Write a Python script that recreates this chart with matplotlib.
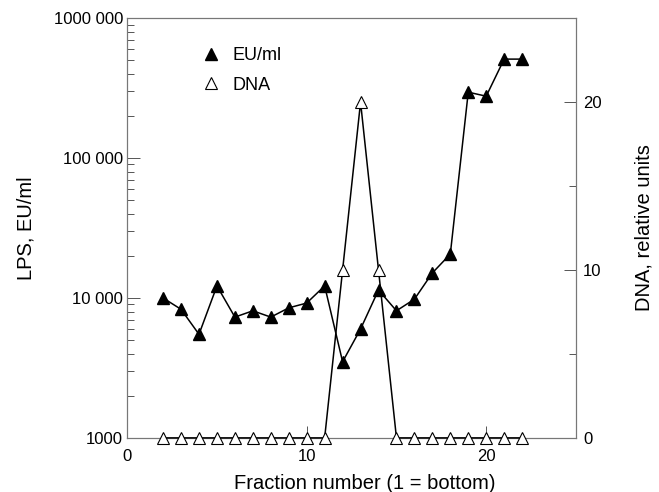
import matplotlib
matplotlib.use('Agg')
import matplotlib.pyplot as plt
from matplotlib.ticker import FixedLocator, LogLocator, NullFormatter

plt.rcParams['font.family'] = ['Liberation Sans', 'DejaVu Sans']

fraction = list(range(2, 23))
eu_ml = [10000, 8300, 5500, 12200, 7300, 8100, 7300, 8500, 9200, 12200,
         3500, 6000, 11400, 8100, 9800, 15100, 20600, 296000, 277000, 510000, 510000]
dna = [0, 0, 0, 0, 0, 0, 0, 0, 0, 0, 10, 20, 10, 0, 0, 0, 0, 0, 0, 0, 0]

ytick_vals = [1000, 10000, 100000, 1000000]
ytick_labels = ['1000', '10 000', '100 000', '1000 000']

fig = plt.figure(figsize=(6.59, 4.92), dpi=100)
ax = fig.add_axes([0.193, 0.110, 0.681, 0.853])
ax2 = ax.twinx()

# DNA zuerst, damit die gefuellten Dreiecke oben liegen
ln2, = ax2.plot(fraction, dna, '-', color='black', lw=1.1, marker='^',
                ms=8, mfc='white', mec='black', mew=0.8, clip_on=False, zorder=3)
ln1, = ax.plot(fraction, eu_ml, '-', color='black', lw=1.1, marker='^',
               ms=8, mfc='black', mec='black', clip_on=False, zorder=3)

ax.set_yscale('log')
ax.set_xlim(0, 25)
ax.set_ylim(1000, 1000000)
ax2.set_ylim(0, 25)

ax.set_xticks([0, 10, 20])
ax.set_yticks(ytick_vals)
ax.set_yticklabels(ytick_labels)
ax.yaxis.set_minor_locator(LogLocator(base=10, subs=range(2, 10)))
ax.yaxis.set_minor_formatter(NullFormatter())
ax2.set_yticks([0, 10, 20])
ax2.yaxis.set_minor_locator(FixedLocator([5, 15]))

for a in (ax, ax2):
    a.tick_params(which='major', direction='in', length=9, width=0.7,
                  color='#555555', labelsize=12, pad=3)
    a.tick_params(which='minor', direction='in', length=5, width=0.7,
                  color='#555555')
    for s in a.spines.values():
        s.set_color('#777777')
        s.set_linewidth(0.8)
ax2.tick_params(axis='y', which='major', pad=5)
ax.tick_params(axis='x', which='major', pad=8)

ax.set_xlabel('Fraction number (1 = bottom)', fontsize=14.5)
ax.xaxis.set_label_coords(0.53, -0.085)
ax.set_ylabel('LPS, EU/ml', fontsize=14.5, labelpad=13)
ax2.set_ylabel('DNA, relative units', fontsize=14.5, labelpad=24)

ax.legend([ln1, ln2], ['EU/ml', 'DNA'], loc='upper left',
          bbox_to_anchor=(0.13, 0.97), frameon=False, fontsize=13,
          handlelength=1.0, handletextpad=0.7, labelspacing=0.7)
leg = ax.get_legend()
for h in leg.legend_handles:
    h.set_linestyle('none')

fig.savefig('out.png', dpi=100)
